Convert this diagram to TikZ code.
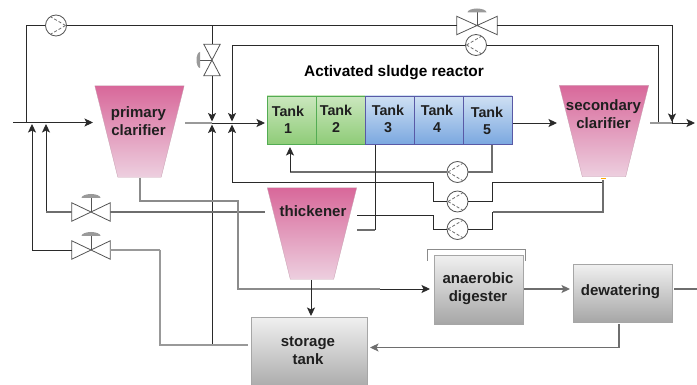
\documentclass[tikz,border=0pt]{standalone}
\usepackage{fontspec}
\setmainfont{Liberation Sans}
\usetikzlibrary{arrows.meta,shapes.geometric,calc}
\definecolor{ln}{HTML}{2A2A2A}
\definecolor{lg}{HTML}{6E6E6E}
\definecolor{pk}{HTML}{D8689A}
\definecolor{pkb}{HTML}{EDCFDF}
\definecolor{gtop}{HTML}{CBE7BE}
\definecolor{gbot}{HTML}{8FCC78}
\definecolor{btop}{HTML}{CFE0F3}
\definecolor{bbot}{HTML}{7BA8E0}
\tikzset{
  pipe/.style={draw=ln,line width=0.9pt},
  gpipe/.style={draw=lg,line width=1.1pt},
  arr/.style={-{Stealth[length=8.5pt,width=8pt,inset=2pt]}},
  clarshape/.style={draw=pk!50!gray!70,line width=0.3pt,top color=pk,bottom color=pkb},
  lab/.style={font=\fontsize{15}{18}\selectfont\bfseries,align=center,text=black!88,inner sep=0pt},
  tanklab/.style={font=\fontsize{14.3}{17}\selectfont\bfseries,align=center,text=black!88,inner sep=0pt},
  gbox/.style={draw=black!35,line width=1pt,top color=black!6,bottom color=black!35,inner sep=0pt,anchor=north west},
  gtank/.style={rectangle,draw=green!35!gray,line width=0.4pt,top color=gtop,bottom color=gbot,minimum width=49pt,minimum height=48pt,inner sep=0pt},
  btank/.style={rectangle,draw=blue!30!gray,line width=0.4pt,top color=btop,bottom color=bbot,minimum width=49pt,minimum height=48pt,inner sep=0pt},
  pumpn/.style={circle,draw=ln!80,line width=0.8pt,minimum size=21pt,inner sep=0pt,fill=white},
  vlv/.style={draw=ln!80,line width=0.8pt,line join=miter},
}
% clarifier cone: name, centre x, centre y
\newcommand\clarat[3]{%
  \node[inner sep=0pt,minimum width=89pt,minimum height=91pt] (#1) at (#2,#3) {};
  \path[clarshape] (#1.north west) -- (#1.north east) -- ($(#1.south east)+(-23,0)$) -- ($(#1.south west)+(23,0)$) -- cycle;
}
% pump: name, x, y, direction (+1 apex right, -1 apex left)
\newcommand\pumpat[4]{%
  \node[pumpn] (#1) at (#2,#3) {};
  \draw[lg,line width=0.8pt,densely dashed] ($(#1)+(#4*9.5,0)$) -- ($(#1)+(-#4*5,-8.5)$);
  \draw[lg,line width=0.8pt,densely dashed] ($(#1)+(#4*9.5,0)$) -- ($(#1)+(-#4*5,8.5)$);
}
% horizontal valve: name, x, y, half width, half height, handle offset
\newcommand\valvehz[6]{%
  \node[inner sep=0pt,minimum width=2*#4 pt,minimum height=2*#5 pt] (#1) at (#2,#3) {};
  \draw[vlv,fill=white] (#1.north west) -- (#1.south east) -- (#1.north east) -- (#1.south west) -- cycle;
  \draw[vlv] (#1.center) -- ++(0,-#6);
  \fill[lg!70] ($(#1.center)+(-9.5,-#6)$) arc[start angle=180,end angle=360,x radius=9.5,y radius=4] -- cycle;
}
\begin{document}
\begin{tikzpicture}[x=1pt,y=-1pt]
\useasboundingbox (0,0) rectangle (697,385);

% --- vessels
\clarat{prim}{139.5}{131.5}
\node[lab] (primlab) at (138.5,121.5) {primary\\clarifier};
\clarat{sec}{604}{131}
\node[lab] (seclab) at (603.5,114.5) {secondary\\clarifier};
\clarat{thick}{312}{233.5}
\node[lab] (thicklab) at (313,211) {thickener};

\node[gtank] (t1) at (291.5,120) {};
\node[gtank] (t2) at (340.5,120) {};
\node[btank] (t3) at (389.5,120) {};
\node[btank] (t4) at (438.5,120) {};
\node[btank] (t5) at (487.5,120) {};
\node[tanklab] (t1lab) at (288,120) {Tank\\1};
\node[tanklab] (t2lab) at (336,119) {Tank\\2};
\node[tanklab] (t3lab) at (388,119) {Tank\\3};
\node[tanklab] (t4lab) at (437,119) {Tank\\4};
\node[tanklab] (t5lab) at (487,121) {Tank\\5};
\node[font=\fontsize{15.4}{18}\selectfont\bfseries,inner sep=0pt] (title) at (394,73) {Activated sludge reactor};

\node[gbox,minimum width=116pt,minimum height=75pt] (store) at (251,317) {};
\node[lab] (storelab) at (308,351) {storage\\tank};
\node[gbox,minimum width=89pt,minimum height=69pt] (ana) at (433.5,255) {};
\node[lab] (analab) at (478,289) {anaerobic\\digester};
\node[gbox,minimum width=99pt,minimum height=58pt] (dew) at (573,264) {};
\node[lab] (dewlab) at (620.5,292) {dewatering};

% --- equipment
\pumpat{p1}{56}{25.5}{1}
\pumpat{p2}{476}{45}{-1}
\pumpat{p3}{457.5}{172}{-1}
\pumpat{p4}{457.5}{201.5}{-1}
\pumpat{p5}{457.5}{229}{-1}
\valvehz{v1}{477}{25.5}{20}{9}{13}
\valvehz{v3}{91}{212}{19}{9}{14}
\valvehz{v4}{91}{250}{19}{9}{14}
\node[inner sep=0pt,minimum width=16pt,minimum height=31pt] (v2) at (212,60) {};
\draw[vlv,fill=white] (v2.north west) -- (v2.south east) -- (v2.south west) -- (v2.north east) -- cycle;
\draw[vlv] (v2.center) -- ++(-12,0);
\fill[lg!70] ($(v2.center)+(-12,-8)$) arc[start angle=270,end angle=90,x radius=3.5,y radius=8] -- cycle;

% --- named junctions and free ends
\coordinate (in) at (13,122.5);
\coordinate (inj) at (26,122.5);
\coordinate (a1) at (32,124);
\coordinate (a2) at (46,124);
\coordinate (pout) at (93,122.5);
\coordinate (primr) at (185,123);
\coordinate (t1in) at (265,123);
\coordinate (j1) at (212,123);
\coordinate (j1t) at (212,121.5);
\coordinate (j1b) at (212,124.5);
\coordinate (j1top) at (212,25.5);
\coordinate (j1bot) at (212,345);
\coordinate (j2) at (232,123);
\coordinate (j2t) at (232,121.5);
\coordinate (j2b) at (232,124.5);
\coordinate (j2corner) at (232,182);
\coordinate (t5out) at (513,123);
\coordinate (secin) at (557,123);
\coordinate (secr) at (650,123);
\coordinate (out) at (695,123);
\coordinate (jr) at (672,122);
\coordinate (jr0) at (672,123);
\coordinate (jrr) at (658,123);
\coordinate (secbot) at (603,180);
\coordinate (t3out) at (375,145);
\coordinate (t5bot) at (492,145);
\coordinate (t1ret) at (290,147);
\coordinate (thr1) at (357,215);
\coordinate (thr2) at (357,230);
\coordinate (thl) at (265,212);
\coordinate (primb) at (140,178);
\coordinate (anain) at (430,289);
\coordinate (stl) at (248,345);
\coordinate (thb) at (311,280);
\coordinate (sttop) at (311,316);
\coordinate (anaout) at (524,289);
\coordinate (dewin) at (570,289);
\coordinate (dewout) at (674,289);
\coordinate (dewfree) at (697,289);
\coordinate (dewb) at (619,324);
\coordinate (str) at (370,347.5);

% --- connectors
\draw[pipe] (in) -- (inj);
\draw[pipe,arr] (inj) -- (pout);
\draw[pipe] (inj) |- (p1.west);
\draw[pipe] (p1.east) -- (v1.west);
\draw[pipe] (v1.east) -| (jr0);
\draw[pipe,arr] (672,60) -- (jr);
\draw[pipe] (j1top) -- (v2.north);
\draw[pipe,arr] (v2.south) -- (j1t);
\draw[pipe,arr] (232,80) -- (j2t);
\draw[pipe] (232,80) |- (p2.west);
\draw[pipe] (p2.east) -| (jrr);
\draw[gpipe,draw=lg!70] (primr) -- (j1);
\draw[pipe] (j1) -- (j2);
\draw[pipe,arr] (j2) -- (t1in);
\draw[pipe,arr] (j1bot) -- (j1b);
\draw[pipe,arr] (j2corner) -- (j2b);
\draw[pipe,arr] (t5out) -- (secin);
\draw[gpipe,draw=lg!70] (secr) -- (jr0);
\draw[pipe,arr] (jr0) -- (out);

% recycle lines
\draw[gpipe] (p3.west) -- (290,172);
\draw[pipe,arr] (290,172) -- (t1ret);
\draw[gpipe] (p3.east) -| (t5bot);
\draw[pipe] (j2corner) -| (433,201.5) -- (p4.west);
\draw[pipe] (p4.east) -- (492.5,201.5) |- (secbot |- j2corner);
\draw[gpipe] (secbot) |- (492.5,212);
\draw[pipe] (492.5,212) |- (p5.east);
\draw[pipe] (p5.west) -- (433,229) |- (thr1);
\draw[pipe] (t3out) -- (375,230);
\draw[gpipe] (375,230) -- (thr2);

% underflow and feeds
\draw[pipe,arr] (32,250) -- (a1);
\draw[pipe,arr] (46,212) -- (a2);
\draw[pipe] (32,250) -- (v4.west);
\draw[gpipe] (46,212) -- (v3.west);
\draw[gpipe] (v3.east) -- (thl);
\draw[gpipe,draw=lg!70] (v4.east) -- (160,250);
\draw[gpipe,draw=lg!70] (160,250) |- (stl);
\draw[gpipe,draw=lg!80] (primb) |- (238,201) |- (380,289);
\draw[pipe,arr] (380,289) -- (anain);
\draw[pipe,arr] (thb) -- (sttop);
\draw[gpipe,arr] (anaout) -- (dewin);
\draw[gpipe] (dewout) -- (dewfree);
\draw[gpipe,arr] (dewb) |- (str);
\draw[lg!80,line width=1pt] (427,261) |- (525,250) -- (525,261);
\fill[orange!70!yellow] (600.5,178.5) rectangle (605.5,179.5);
\end{tikzpicture}
\end{document}
